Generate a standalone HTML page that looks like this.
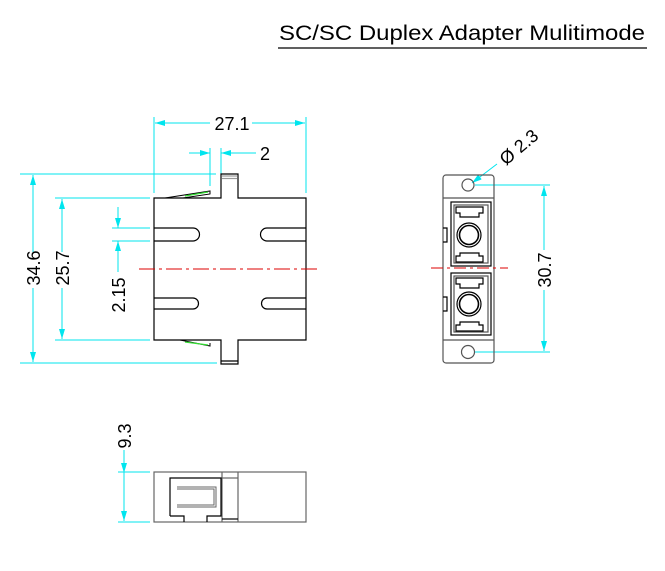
<!DOCTYPE html>
<html><head><meta charset="utf-8"><style>
html,body{margin:0;padding:0;background:#fff;}
svg{display:block;font-family:"Liberation Sans",Arial,sans-serif;}
</style></head><body>
<svg width="665" height="571" viewBox="0 0 665 571" xmlns="http://www.w3.org/2000/svg">
<defs>
<marker id="a" viewBox="0 0 10 6" refX="10" refY="3" markerWidth="10" markerHeight="6" orient="auto-start-reverse" markerUnits="userSpaceOnUse"><path d="M0,0 L10,3 L0,6 Z" fill="#00e5ee"/></marker>
</defs>
<!-- title -->
<text x="279" y="40" font-size="21" fill="#000" textLength="366" lengthAdjust="spacingAndGlyphs">SC/SC Duplex Adapter Mulitimode</text>
<line x1="278" y1="48" x2="647" y2="48" stroke="#000" stroke-width="1.3"/>

<g fill="none" stroke="#00e5ee" stroke-width="1">
<line x1="154" y1="117" x2="154" y2="193"/>
<line x1="306" y1="117" x2="306" y2="193"/>
<line x1="210" y1="123" x2="155" y2="123" marker-end="url(#a)"/>
<line x1="252" y1="123" x2="305" y2="123" marker-end="url(#a)"/>
<line x1="210" y1="148" x2="210" y2="186"/>
<line x1="221" y1="148" x2="221" y2="193"/>
<line x1="189" y1="153" x2="210" y2="153" marker-end="url(#a)"/>
<line x1="256" y1="153" x2="221" y2="153" marker-end="url(#a)"/>
<line x1="20" y1="174" x2="216" y2="174"/>
<line x1="20" y1="363" x2="217" y2="363"/>
<line x1="33" y1="252" x2="33" y2="175" marker-end="url(#a)"/>
<line x1="33" y1="288" x2="33" y2="362" marker-end="url(#a)"/>
<line x1="55" y1="198" x2="150" y2="198"/>
<line x1="55" y1="340" x2="150" y2="340"/>
<line x1="62" y1="252" x2="62" y2="199" marker-end="url(#a)"/>
<line x1="62" y1="288" x2="62" y2="339" marker-end="url(#a)"/>
<line x1="112" y1="228" x2="150" y2="228"/>
<line x1="112" y1="241" x2="150" y2="241"/>
<line x1="118" y1="207" x2="118" y2="228" marker-end="url(#a)"/>
<line x1="118" y1="272" x2="118" y2="241" marker-end="url(#a)"/>
<line x1="475" y1="185" x2="550" y2="185"/>
<line x1="475" y1="352" x2="550" y2="352"/>
<line x1="544" y1="250" x2="544" y2="186" marker-end="url(#a)"/>
<line x1="544" y1="290" x2="544" y2="351" marker-end="url(#a)"/>
<line x1="497" y1="164" x2="472" y2="183" marker-end="url(#a)"/>
<line x1="118" y1="472" x2="150" y2="472"/>
<line x1="118" y1="522" x2="150" y2="522"/>
<line x1="124" y1="450" x2="124" y2="473" marker-end="url(#a)"/>
<line x1="124" y1="473" x2="124" y2="521" marker-end="url(#a)"/>
</g>

<g font-size="18" fill="#000">
<text x="232" y="130" text-anchor="middle" stroke="#fff" stroke-width="6" paint-order="stroke">27.1</text>
<text x="260" y="160">2</text>
<text transform="translate(40,268) rotate(-90)" text-anchor="middle">34.6</text>
<text transform="translate(69,268) rotate(-90)" text-anchor="middle">25.7</text>
<text transform="translate(125,295) rotate(-90)" text-anchor="middle">2.15</text>
<text transform="translate(551,270) rotate(-90)" text-anchor="middle">30.7</text>
<text transform="translate(506,166) rotate(-40)">Ø 2.3</text>
<text transform="translate(131,436) rotate(-90)" text-anchor="middle">9.3</text>
</g>

<!-- front view -->
<g fill="none" stroke="#000" stroke-width="1.2">
<path d="M154,198 H221 V174 H238 V198 H306 V340 H238 V364 H221 V340 H154 Z"/>
<path d="M154,228 H193 A6.5,6.5 0 0 1 193,241 H154"/>
<path d="M306,228 H267 A6.5,6.5 0 0 0 267,241 H306"/>
<path d="M154,298 H193 A5.5,5.5 0 0 1 193,309 H154"/>
<path d="M306,298 H267 A5.5,5.5 0 0 0 267,309 H306"/>
<line x1="221" y1="361" x2="238" y2="361"/>
<path d="M165,198 L210,191 L210,194 L183,198" stroke-width="1"/>
<path d="M180,340 L210,346 L210,343" stroke-width="1"/>
</g>
<line x1="222" y1="176" x2="237" y2="176" stroke="#999" stroke-width="1.2"/>
<line x1="222" y1="178.5" x2="237" y2="178.5" stroke="#999" stroke-width="1.2"/>
<line x1="185" y1="196" x2="208" y2="192" stroke="#33dd33" stroke-width="1.2"/>
<line x1="185" y1="342" x2="208" y2="345" stroke="#33dd33" stroke-width="1.2"/>
<line x1="139" y1="269" x2="321" y2="269" stroke="#d00" stroke-width="1" stroke-dasharray="16,4,3,4"/>

<!-- side view -->
<g fill="none" stroke="#555" stroke-width="1.2">
<rect x="443" y="175" width="51" height="188" rx="3"/>
<line x1="443" y1="198" x2="494" y2="198"/>
<line x1="443" y1="340" x2="494" y2="340"/>
<circle cx="468" cy="185" r="6"/>
<circle cx="468" cy="352" r="6.5"/>
<rect x="454" y="205" width="34" height="58"/>
<rect x="454" y="276" width="34" height="56"/>
</g>
<g fill="none" stroke="#000" stroke-width="1.2">
<rect x="451" y="202" width="40" height="64"/>
<rect x="451" y="273" width="40" height="62"/>
<path d="M456,207 H483 V213 H479 V217 H460 V213 H456 Z"/>
<path d="M456,262 H483 V256 H479 V253 H460 V256 H456 Z"/>
<path d="M456,278 H483 V284 H479 V288 H460 V284 H456 Z"/>
<path d="M456,331 H483 V325 H479 V322 H460 V325 H456 Z"/>
<circle cx="469" cy="235" r="12"/>
<circle cx="469" cy="235" r="9.5" stroke-width="1.6"/>
<circle cx="469" cy="304" r="12"/>
<circle cx="469" cy="304" r="9.5" stroke-width="1.6"/>
<path d="M443,228 H447 V242 H443"/>
<path d="M443,297 H447 V311 H443"/>
</g>
<line x1="431" y1="268" x2="508" y2="268" stroke="#d00" stroke-width="1" stroke-dasharray="12,4,3,4"/>

<!-- bottom view -->
<g fill="none" stroke-width="1.2">
<rect x="154" y="472" width="152" height="50" stroke="#666"/>
<line x1="222" y1="472" x2="222" y2="522" stroke="#666"/>
<line x1="238" y1="472" x2="238" y2="522" stroke="#666"/>
<line x1="222" y1="478" x2="238" y2="478" stroke="#666"/>
<line x1="222" y1="519" x2="238" y2="519" stroke="#000"/>
<path d="M170,516 V478 H221 V516 H207 V522 M184,522 V516 H170" stroke="#000"/>
<path d="M177,487 H216 V507 H177 M177,489 H214 V505 H177" stroke="#666" stroke-width="1"/>
</g>
</svg>
</body></html>
